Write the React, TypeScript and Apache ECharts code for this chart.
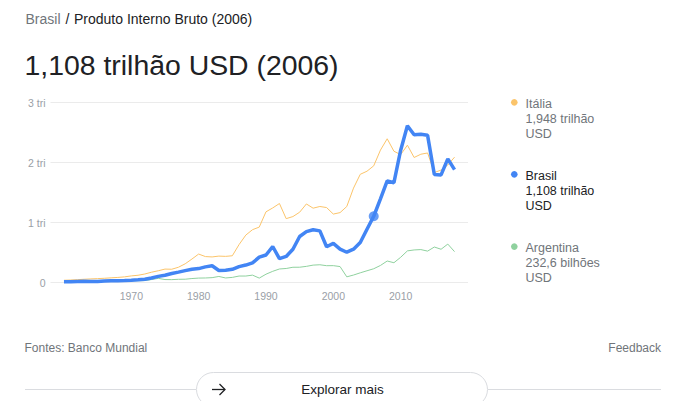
import React, { useEffect, useRef } from "react";
import * as echarts from "echarts";

const years = [
  1960, 1961, 1962, 1963, 1964, 1965, 1966, 1967, 1968, 1969,
  1970, 1971, 1972, 1973, 1974, 1975, 1976, 1977, 1978, 1979,
  1980, 1981, 1982, 1983, 1984, 1985, 1986, 1987, 1988, 1989,
  1990, 1991, 1992, 1993, 1994, 1995, 1996, 1997, 1998, 1999,
  2000, 2001, 2002, 2003, 2004, 2005, 2006, 2007, 2008, 2009,
  2010, 2011, 2012, 2013, 2014, 2015, 2016, 2017, 2018,
];

// GDP, billions of USD
const brasil = [
  15.2, 15.2, 19.9, 23.0, 21.2, 21.8, 27.1, 30.6, 33.9, 37.5,
  42.3, 49.2, 58.5, 79.3, 105.1, 123.7, 152.7, 176.2, 200.8, 224.0,
  235.0, 263.6, 281.7, 203.3, 209.0, 222.9, 268.1, 294.1, 330.4, 425.6,
  462.0, 602.9, 400.6, 437.8, 558.1, 769.3, 850.4, 883.2, 863.7, 599.6,
  655.4, 559.4, 508.0, 558.3, 669.3, 891.6, 1107.6, 1397.1, 1695.8, 1667.0,
  2208.9, 2616.2, 2465.2, 2472.8, 2456.0, 1802.2, 1796.6, 2063.5, 1885.5,
];

const italia = [
  40.4, 44.8, 50.4, 57.7, 63.2, 68.0, 73.7, 81.2, 87.9, 97.1,
  113.4, 124.0, 144.8, 174.9, 199.0, 226.9, 224.4, 257.6, 315.0, 394.0,
  477.3, 435.5, 429.4, 443.2, 438.9, 448.9, 635.3, 793.0, 883.6, 926.9,
  1181.2, 1245.8, 1319.6, 1067.8, 1102.2, 1174.7, 1312.6, 1241.9, 1270.1, 1252.4,
  1143.8, 1168.0, 1270.0, 1577.0, 1806.5, 1858.2, 1947.9, 2210.3, 2398.9, 2191.2,
  2134.0, 2292.0, 2087.1, 2141.3, 2162.0, 1836.6, 1877.1, 1961.8, 2091.9,
];

const argentina = [
  null, null, 24.5, 18.3, 25.6, 28.3, 28.6, 24.3, 26.4, 31.3,
  31.6, 33.3, 34.7, 52.5, 72.4, 52.4, 51.2, 56.8, 58.1, 69.3,
  77.0, 78.7, 84.3, 104.0, 79.1, 88.4, 110.9, 111.1, 126.2, 76.6,
  141.4, 189.7, 228.8, 236.7, 257.4, 258.0, 272.1, 293.0, 299.1, 283.5,
  284.2, 268.7, 97.7, 127.6, 164.7, 198.7, 232.6, 287.5, 361.6, 333.0,
  423.6, 530.2, 546.0, 552.0, 526.3, 594.7, 557.5, 643.6, 517.6,
];

const selectedYear = 2006;
const yTicks = [0, 1000, 2000, 3000];
const yTickLabels = ["0", "1 tri", "2 tri", "3 tri"];
const xTickLabels = ["1970", "1980", "1990", "2000", "2010"];

const legendItems = [
  { name: "Itália", value: "1,948 trilhão", unit: "USD", color: "#fbc46a", text: "#70757a" },
  { name: "Brasil", value: "1,108 trilhão", unit: "USD", color: "#4285f4", text: "#202124" },
  { name: "Argentina", value: "232,6 bilhões", unit: "USD", color: "#8fd19e", text: "#70757a" },
];

const FONT = "'Liberation Sans', Arial, Helvetica, sans-serif";

export default function App() {
  const ref = useRef<HTMLDivElement>(null);

  useEffect(() => {
    if (!ref.current) return;
    const chart = echarts.init(ref.current, null, { renderer: "svg" });

    const pairs = (arr: (number | null)[]) => years.map((y, i) => [y, arr[i]]);
    const selIdx = years.indexOf(selectedYear);

    const legendBlocks: any[] = [];
    const legendTops = [103.5, 175.5, 247.8];
    legendItems.forEach((it, k) => {
      const top = legendTops[k];
      legendBlocks.push({
        type: "circle",
        shape: { cx: 514.3, cy: top - 1.2, r: 3.3 },
        style: { fill: it.color },
        silent: true,
      });
      [it.name, it.value, it.unit].forEach((t, j) => {
        legendBlocks.push({
          type: "text",
          x: 525.5,
          y: top + j * 15.3,
          style: {
            text: t,
            fill: it.text,
            font: `12.5px ${FONT}`,
            textAlign: "left",
            textVerticalAlign: "middle",
          },
          silent: true,
        });
      });
    });

    chart.setOption({
      animation: false,
      backgroundColor: "#ffffff",
      textStyle: { fontFamily: FONT },
      grid: { left: 50.5, top: 102.7, width: 417.5, height: 180, containLabel: false },
      xAxis: {
        type: "value",
        min: 1958,
        max: 2020,
        interval: 2,
        axisLine: { show: false },
        axisTick: { show: false },
        splitLine: { show: false },
        axisLabel: {
          color: "#9aa0a6",
          fontSize: 10.5,
          fontFamily: FONT,
          margin: 8,
          formatter: (v: number) => (xTickLabels.includes(String(v)) ? String(v) : ""),
        },
      },
      yAxis: {
        type: "value",
        min: yTicks[0],
        max: yTicks[yTicks.length - 1],
        interval: 1000,
        axisLine: { show: false },
        axisTick: { show: false },
        splitLine: { lineStyle: { color: "#ebebeb", width: 1 } },
        axisLabel: {
          color: "#9aa0a6",
          fontSize: 10.5,
          fontFamily: FONT,
          margin: 5,
          formatter: (v: number) => yTickLabels[yTicks.indexOf(v)] ?? "",
        },
      },
      series: [
        {
          type: "line",
          name: "Itália",
          data: pairs(italia),
          symbol: "none",
          lineStyle: { color: "#fbc46a", width: 1 },
          z: 2,
          silent: true,
        },
        {
          type: "line",
          name: "Argentina",
          data: pairs(argentina),
          symbol: "none",
          connectNulls: false,
          lineStyle: { color: "#8fd19e", width: 1 },
          z: 2,
          silent: true,
        },
        {
          type: "line",
          name: "Brasil",
          data: pairs(brasil),
          symbol: "none",
          lineStyle: { color: "#4285f4", width: 3.5 },
          z: 3,
          silent: true,
        },
        {
          type: "scatter",
          name: "Brasil 2006",
          data: [[selectedYear, brasil[selIdx]]],
          symbol: "circle",
          symbolSize: 10,
          itemStyle: { color: "#4285f4" },
          z: 4,
          silent: true,
        },
      ],
      graphic: [
        {
          type: "text",
          x: 25.5,
          y: 18.5,
          style: { text: "Brasil", fill: "#70757a", font: `14px ${FONT}`, textVerticalAlign: "middle" },
        },
        {
          type: "text",
          x: 65.5,
          y: 18.5,
          style: { text: "/", fill: "#202124", font: `14px ${FONT}`, textVerticalAlign: "middle" },
        },
        {
          type: "text",
          x: 74,
          y: 18.5,
          style: {
            text: "Produto Interno Bruto (2006)",
            fill: "#202124",
            font: `14px ${FONT}`,
            textVerticalAlign: "middle",
          },
        },
        {
          type: "text",
          x: 24.5,
          y: 65,
          style: {
            text: "1,108 trilhão USD (2006)",
            fill: "#202124",
            font: `28.4px ${FONT}`,
            textVerticalAlign: "middle",
          },
        },
        ...legendBlocks,
        {
          type: "text",
          x: 24.5,
          y: 348,
          style: { text: "Fontes: Banco Mundial", fill: "#70757a", font: `12px ${FONT}`, textVerticalAlign: "middle" },
        },
        {
          type: "text",
          x: 661,
          y: 348,
          style: {
            text: "Feedback",
            fill: "#70757a",
            font: `12px ${FONT}`,
            textAlign: "right",
            textVerticalAlign: "middle",
          },
        },
        {
          type: "line",
          shape: { x1: 25, y1: 389.5, x2: 196, y2: 389.5 },
          style: { stroke: "#dadce0", lineWidth: 1 },
        },
        {
          type: "line",
          shape: { x1: 488, y1: 389.5, x2: 661, y2: 389.5 },
          style: { stroke: "#dadce0", lineWidth: 1 },
        },
        {
          type: "rect",
          shape: { x: 196.5, y: 372.5, width: 291, height: 34, r: 17 },
          style: { fill: "#ffffff", stroke: "#dadce0", lineWidth: 1 },
        },
        {
          type: "line",
          shape: { x1: 212, y1: 389.5, x2: 225, y2: 389.5 },
          style: { stroke: "#202124", lineWidth: 1.3 },
        },
        {
          type: "polyline",
          shape: { points: [[219.5, 384], [225, 389.5], [219.5, 395]] },
          style: { stroke: "#202124", lineWidth: 1.3, fill: "none" },
        },
        {
          type: "text",
          x: 342.5,
          y: 389.5,
          style: {
            text: "Explorar mais",
            fill: "#202124",
            font: `13.5px ${FONT}`,
            textAlign: "center",
            textVerticalAlign: "middle",
          },
        },
      ],
    });

    return () => chart.dispose();
  }, []);

  return (
    <div
      ref={ref}
      style={{ position: "absolute", left: 0, top: 0, width: 690, height: 401, background: "#fff" }}
    />
  );
}
